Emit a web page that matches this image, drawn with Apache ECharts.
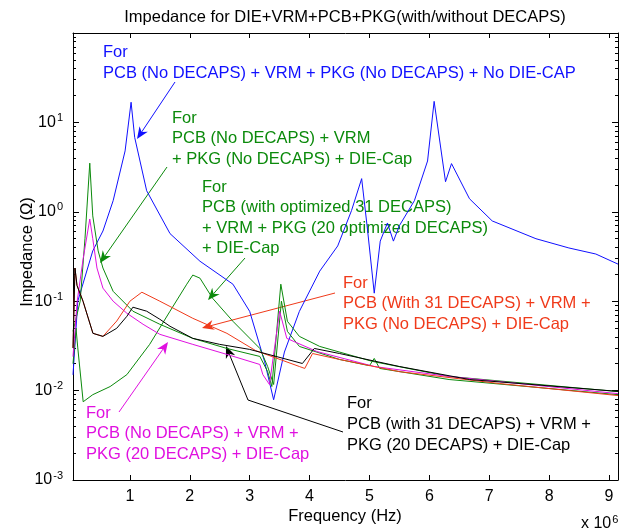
<!DOCTYPE html>
<html><head><meta charset="utf-8">
<script src="https://cdn.jsdelivr.net/npm/echarts@6/dist/echarts.min.js"></script>
<style>html,body{margin:0;padding:0;background:#fff}#c{width:626px;height:531px}</style>
</head><body><div id="c"></div>
<script>
// Frequency in MHz (axis shown as x 10^6 Hz), impedance in Ohm
const xTicks = [1, 2, 3, 4, 5, 6, 7, 8, 9];
const yDecades = [0.001, 0.01, 0.1, 1, 10, 100];

const noDecapsNoDieCap = [[0.05,0.015],[0.13,0.1],[0.38,0.365],[0.55,0.61],[0.72,1.33],[0.92,4.8],[1.02,16.8],[1.08,6.8],[1.28,1.72],[1.67,0.57],[2.17,0.28],[2.72,0.155],[3.0,0.077],[3.25,0.021],[3.4,0.0079],[3.58,0.027],[3.83,0.077],[4.17,0.217],[4.47,0.415],[4.7,1.03],[4.87,2.35],[4.97,0.61],[5.08,0.123],[5.18,0.47],[5.3,0.75],[5.4,0.47],[5.5,0.70],[5.75,1.33],[5.97,3.7],[6.08,17.2],[6.27,2.17],[6.37,3.46],[6.67,1.4],[7.05,0.79],[7.78,0.5],[8.33,0.394],[8.78,0.337],[9.15,0.26]];
const noDecapsDieCap = [[0.05,0.046],[0.17,0.1],[0.25,0.5],[0.33,3.5],[0.38,0.9],[0.47,0.365],[0.55,0.235],[0.72,0.129],[1.05,0.0773],[1.5,0.0552],[2.05,0.0384],[2.62,0.0296],[3.17,0.0241],[3.3,0.0163],[3.37,0.0111],[3.52,0.155],[3.63,0.0596],[3.83,0.0404],[4.17,0.0312],[5.05,0.0212],[6.33,0.0144],[9.15,0.00975]];
const optimizedDecaps = [[0.05,0.02],[0.1,0.05],[0.13,0.03],[0.22,0.0075],[0.38,0.009],[0.67,0.0111],[0.95,0.0151],[1.33,0.0329],[1.67,0.0773],[1.95,0.155],[2.05,0.196],[2.17,0.181],[2.38,0.108],[2.72,0.0596],[3.17,0.0296],[3.3,0.0186],[3.4,0.0117],[3.53,0.1],[3.63,0.046],[3.83,0.0312],[4.5,0.0223],[5.0,0.019],[5.08,0.0229],[5.17,0.0177],[6.33,0.0133],[9.15,0.009]];
const pkg20Decaps = [[0.05,0.024],[0.12,0.1],[0.22,0.3],[0.33,0.83],[0.38,0.5],[0.45,0.235],[0.55,0.14],[0.72,0.1],[0.95,0.0733],[1.22,0.0552],[1.5,0.0426],[2.05,0.0329],[2.62,0.0254],[3.17,0.0196],[3.22,0.0151],[3.33,0.0117],[3.5,0.0773],[3.62,0.0384],[4.12,0.0274],[5.08,0.0186],[6.33,0.0144],[9.15,0.00925]];
const pcb31NoPkg = [[0.05,0.03],[0.083,0.235],[0.117,0.15],[0.217,0.1],[0.383,0.0437],[0.55,0.0404],[0.78,0.06],[1.0,0.1],[1.2,0.126],[1.5,0.1],[2.05,0.0644],[2.62,0.0437],[3.1,0.028],[3.83,0.0186],[3.92,0.0177],[4.05,0.026],[4.5,0.0223],[5.5,0.0163],[7.17,0.012],[9.15,0.0088]];
const pcb31Pkg20 = [[0.05,0.03],[0.083,0.235],[0.117,0.15],[0.217,0.1],[0.383,0.0437],[0.55,0.0404],[0.78,0.0498],[0.95,0.0678],[1.05,0.0857],[1.28,0.0773],[1.5,0.0628],[1.67,0.0524],[2.05,0.0384],[2.5,0.0329],[3.0,0.0289],[3.88,0.0201],[4.08,0.0296],[4.5,0.026],[5.5,0.0186],[6.67,0.0133],[9.15,0.0098]];

const FONT = '"Liberation Sans", Arial, sans-serif';
const FS = 16.5;
const TFS = 16;
const C = {blue:'#1010ff', green:'#0b8a0b', red:'#f03a1a', mag:'#e010e0', black:'#000000'};

const minorLog = [];
yDecades.slice(0, 5).forEach(d => { for (let k = 2; k <= 9; k++) minorLog.push(Math.log10(k * d)); });
const majorLog = yDecades.map(d => Math.log10(d));

const chart = echarts.init(document.getElementById('c'), null, {renderer: 'canvas'});

function arrowEls(pts, color) {
  const n = pts.length, tip = pts[n - 1], prev = pts[n - 2];
  const dx = tip[0] - prev[0], dy = tip[1] - prev[1], len = Math.hypot(dx, dy);
  const ux = dx / len, uy = dy / len, nx = -uy, ny = ux;
  const L = 12, W = 5;
  const bx = tip[0] - ux * L, by = tip[1] - uy * L;
  const notch = [tip[0] - ux * L * 0.7, tip[1] - uy * L * 0.7];
  const linePts = pts.slice(0, n - 1).concat([notch]);
  return [
    {type: 'polyline', silent: true, shape: {points: linePts}, style: {stroke: color, lineWidth: 1, fill: null}},
    {type: 'polygon', silent: true, shape: {points: [tip, [bx + nx * W, by + ny * W], notch, [bx - nx * W, by - ny * W]]}, style: {fill: color}}
  ];
}
function txt(t, x, y, color, align) {
  return {type: 'text', silent: true, x: x, y: y,
    style: {text: t, fill: color, font: FS + 'px ' + FONT, align: align || 'left', verticalAlign: 'middle'}};
}
function lines(arr, x, y0, dy, color) { return arr.map((t, i) => txt(t, x, y0 + i * dy, color)); }

const graphics = [].concat(
  [txt('Impedance for DIE+VRM+PCB+PKG(with/without DECAPS)', 345, 17, '#000', 'center')],
  [txt('Frequency (Hz)', 345, 516, '#000', 'center')],
  [{type: 'text', silent: true, x: 27, y: 252, rotation: Math.PI / 2,
    style: {text: 'Impedance (Ω)', fill: '#000', font: FS + 'px ' + FONT, align: 'center', verticalAlign: 'middle'}}],
  [{type: 'text', silent: true, x: 581, y: 524,
    style: {text: '{a|x 10}{b|6}', fill: '#000', align: 'left', verticalAlign: 'middle',
      rich: {a: {fontSize: TFS, fontFamily: FONT, fill: '#000'}, b: {fontSize: 11, fontFamily: FONT, fill: '#000', verticalAlign: 'bottom', padding: [0, 0, 9, 1]}}}}],
  lines(['For', 'PCB (No DECAPS) + VRM + PKG (No DECAPS) + No DIE-CAP'], 103, 52, 21, C.blue),
  arrowEls([[175, 82], [137, 139]], C.blue),
  lines(['For', 'PCB (No DECAPS) + VRM', '+ PKG (No DECAPS) + DIE-Cap'], 172, 118, 20.5, C.green),
  arrowEls([[167, 167], [100, 263]], C.green),
  lines(['For', 'PCB (with optimized 31 DECAPS)', '+ VRM + PKG (20 optimized DECAPS)', '+ DIE-Cap'], 202, 187, 20.5, C.green),
  arrowEls([[245, 258], [208, 300]], C.green),
  lines(['For', 'PCB (With 31 DECAPS) + VRM +', 'PKG (No DECAPS) + DIE-Cap'], 343, 283, 20.5, C.red),
  arrowEls([[335, 293], [202, 328]], C.red),
  lines(['For', 'PCB (with 31 DECAPS) + VRM +', 'PKG (20 DECAPS) + DIE-Cap'], 347, 403, 21, C.black),
  arrowEls([[343, 432], [248, 400], [226, 346]], C.black),
  lines(['For', 'PCB (No DECAPS) + VRM +', 'PKG (20 DECAPS) + DIE-Cap'], 86, 413, 20.5, C.mag),
  arrowEls([[119, 412], [168, 342]], C.mag)
);

function ser(name, data, color) {
  return {name: name, type: 'line', data: data, xAxisIndex: 0, yAxisIndex: 0, showSymbol: false, symbol: 'none',
    lineStyle: {color: color, width: 1}, itemStyle: {color: color}, animation: false, z: 3, clip: true};
}

const axisCommon = {axisLine: {show: true, onZero: false, lineStyle: {color: '#000', width: 1}}, splitLine: {show: false}};
const grid = {left: 73, right: 8, top: 33, bottom: 51, containLabel: false};

chart.setOption({
  animation: false,
  backgroundColor: '#fff',
  grid: grid,
  xAxis: [
    Object.assign({type: 'value', position: 'bottom', min: 0.05, max: 9.15,
      axisTick: {show: true, inside: true, length: 5, customValues: xTicks, lineStyle: {color: '#000'}},
      axisLabel: {show: true, customValues: xTicks, margin: 9, fontSize: TFS, fontFamily: FONT, color: '#000'}}, axisCommon),
    Object.assign({type: 'value', position: 'top', min: 0.05, max: 9.15,
      axisTick: {show: true, inside: true, length: 5, customValues: xTicks, lineStyle: {color: '#000'}},
      axisLabel: {show: false}}, axisCommon)
  ],
  yAxis: [
    Object.assign({type: 'log', logBase: 10, position: 'left', min: 0.001, max: 100,
      axisTick: {show: true, inside: true, length: 6, lineStyle: {color: '#000'}},
      axisLabel: {show: true, margin: 10, color: '#000',
        formatter: function (v) { const e = Math.round(Math.log10(v)); if (e >= 2) return ''; return '{b|10}{e|' + e + '}'; },
        rich: {b: {fontSize: TFS, fontFamily: FONT, color: '#000'}, e: {fontSize: 11, fontFamily: FONT, color: '#000', verticalAlign: 'bottom', padding: [0, 0, 9, 1]}}}}, axisCommon),
    {type: 'value', position: 'left', min: -3, max: 2, axisLine: {show: false}, splitLine: {show: false},
      axisTick: {show: true, inside: true, length: 3, customValues: minorLog, lineStyle: {color: '#000'}}, axisLabel: {show: false}},
    Object.assign({type: 'value', position: 'right', min: -3, max: 2,
      axisTick: {show: true, inside: true, length: 6, customValues: majorLog, lineStyle: {color: '#000'}}, axisLabel: {show: false}}, axisCommon),
    {type: 'value', position: 'right', min: -3, max: 2, axisLine: {show: false}, splitLine: {show: false},
      axisTick: {show: true, inside: true, length: 3, customValues: minorLog, lineStyle: {color: '#000'}}, axisLabel: {show: false}}
  ],
  series: [
    ser('PCB (No DECAPS) + VRM + PKG (No DECAPS) + No DIE-Cap', noDecapsNoDieCap, C.blue),
    ser('PCB (No DECAPS) + VRM + PKG (No DECAPS) + DIE-Cap', noDecapsDieCap, C.green),
    ser('PCB (with optimized 31 DECAPS) + VRM + PKG (20 optimized DECAPS) + DIE-Cap', optimizedDecaps, C.green),
    ser('PCB (No DECAPS) + VRM + PKG (20 DECAPS) + DIE-Cap', pkg20Decaps, C.mag),
    ser('PCB (With 31 DECAPS) + VRM + PKG (No DECAPS) + DIE-Cap', pcb31NoPkg, C.red),
    ser('PCB (with 31 DECAPS) + VRM + PKG (20 DECAPS) + DIE-Cap', pcb31Pkg20, C.black)
  ],
  graphic: graphics
});
</script></body></html>
